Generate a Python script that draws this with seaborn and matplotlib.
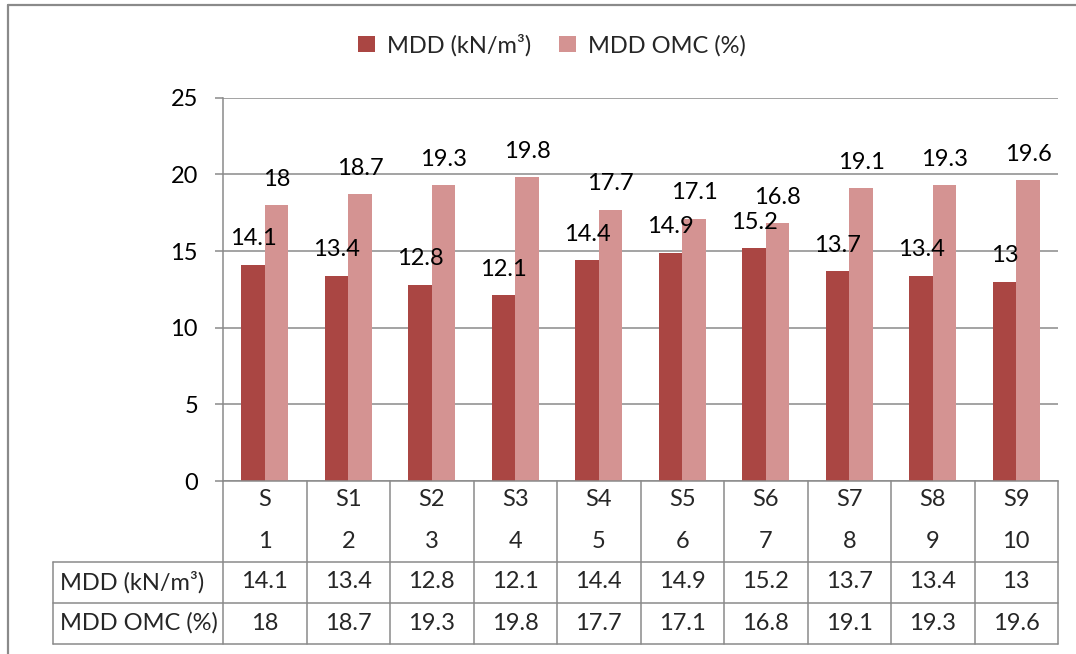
import matplotlib
matplotlib.use("Agg")
import matplotlib.pyplot as plt
import matplotlib.transforms as mtrans
from matplotlib.lines import Line2D
import seaborn as sns
import pandas as pd

# ---- data ----
categories = ["S", "S1", "S2", "S3", "S4", "S5", "S6", "S7", "S8", "S9"]
category_numbers = ["1", "2", "3", "4", "5", "6", "7", "8", "9", "10"]
series_names = ["MDD (kN/m³)", "MDD OMC (%)"]
mdd = [14.1, 13.4, 12.8, 12.1, 14.4, 14.9, 15.2, 13.7, 13.4, 13.0]
omc = [18.0, 18.7, 19.3, 19.8, 17.7, 17.1, 16.8, 19.1, 19.3, 19.6]
y_ticks = [0, 5, 10, 15, 20, 25]

dark = "#AA4643"
light = "#D49392"
gray = "#8A8A8A"

sns.set_theme(style="white")
plt.rcParams["font.family"] = ["Lato", "DejaVu Sans"]
FS = 17

df = pd.DataFrame({
    "cat": categories * 2,
    "value": mdd + omc,
    "series": [series_names[0]] * len(categories) + [series_names[1]] * len(categories),
})

W, H = 1076, 654
fig = plt.figure(figsize=(W / 100, H / 100), dpi=100)
ax = fig.add_axes([223 / W, 1 - 481 / H, (1058 - 223) / W, (481 - 97.7) / H])

sns.barplot(data=df, x="cat", y="value", hue="series", order=categories,
            hue_order=series_names, palette=[dark, light], width=0.563,
            ax=ax, saturation=1, legend=True, errorbar=None, linewidth=0)

handles, labels = ax.get_legend_handles_labels()
ax.get_legend().remove()

ax.set_xlim(-0.5, len(categories) - 0.5)
ax.set_ylim(0, 25)
ax.set_yticks(y_ticks)
ax.set_yticklabels([str(t) for t in y_ticks], fontsize=FS, color="black")
ax.set_xticks([])
ax.set_xlabel("")
ax.set_ylabel("")
ax.tick_params(axis="y", length=6, width=1.1, color=gray, pad=12, left=True, direction="out")
ax.yaxis.grid(True, color=gray, lw=1.1)
ax.set_axisbelow(True)
for s in ["top", "right"]:
    ax.spines[s].set_visible(False)
for s in ["left", "bottom"]:
    ax.spines[s].set_color(gray)
    ax.spines[s].set_linewidth(1.1)

# data labels
for container, vals in zip(ax.containers, [mdd, omc]):
    for bar, v in zip(container, vals):
        ax.annotate(f"{v:g}", (bar.get_x() + bar.get_width() / 2, bar.get_height()),
                    xytext=(0, 14), textcoords="offset points",
                    ha="center", va="baseline", fontsize=FS, color="black")

# data table below the axes
bt = mtrans.blended_transform_factory(ax.transData, ax.transAxes)
ax_h = 481 - 97.7
def ay(py):
    return (481 - py) / ax_h

n = len(categories)
for i in range(n + 1):
    x = i - 0.5
    ax.add_line(Line2D([x, x], [0, ay(644)], transform=bt, color=gray, lw=1.1, clip_on=False))
for i in range(n):
    ax.text(i, ay(500), categories[i], transform=bt, ha="center", va="center", fontsize=FS)
    ax.text(i, ay(541), category_numbers[i], transform=bt, ha="center", va="center", fontsize=FS)
    ax.text(i, ay(582), f"{mdd[i]:g}", transform=bt, ha="center", va="center", fontsize=FS)
    ax.text(i, ay(623), f"{omc[i]:g}", transform=bt, ha="center", va="center", fontsize=FS)

for py in [562, 603, 644]:
    fig.add_artist(Line2D([53 / W, 1058 / W], [1 - py / H] * 2, transform=fig.transFigure,
                          color=gray, lw=1.1))
fig.add_artist(Line2D([53 / W, 53 / W], [1 - 562 / H, 1 - 644 / H], transform=fig.transFigure,
                      color=gray, lw=1.1))
fig.text(60 / W, 1 - 582 / H, series_names[0], ha="left", va="center", fontsize=FS)
fig.text(60 / W, 1 - 623 / H, series_names[1], ha="left", va="center", fontsize=FS)

# outer chart border (left and top)
fig.add_artist(Line2D([8 / W, 8 / W], [1 - 5 / H, 0], transform=fig.transFigure, color=gray, lw=1.6))
fig.add_artist(Line2D([8 / W, 1], [1 - 5 / H, 1 - 5 / H], transform=fig.transFigure, color=gray, lw=1.6))

# legend
fig.legend(handles, labels, loc="center", bbox_to_anchor=(552 / W, 1 - 45 / H), ncol=2,
           frameon=False, fontsize=FS, handlelength=0.7, handleheight=0.7,
           columnspacing=1.2, handletextpad=0.5)

fig.savefig("out.png", dpi=100)
